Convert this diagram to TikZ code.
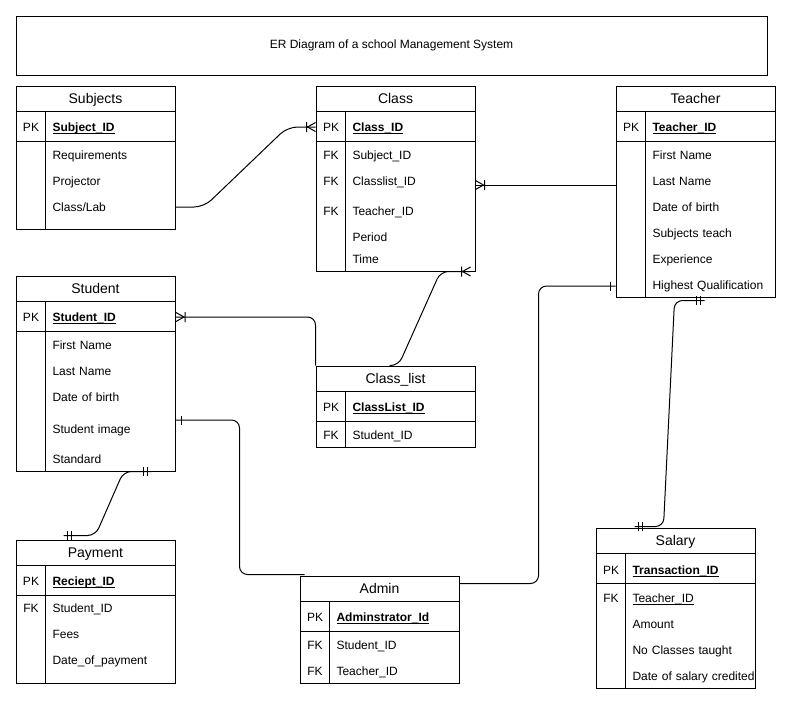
\documentclass[tikz,border=0pt]{standalone}
\usepackage{fontspec}
\setmainfont{Liberation Sans}

% entity-relation line ends: crow's foot with bar, single bar, double bar
\pgfdeclarearrow{
  name = ercrow,
  setup code = {
    \pgfarrowssettipend{0pt}
    \pgfarrowssetlineend{0pt}
    \pgfarrowssetbackend{-10pt}
    \pgfarrowssetvisualbackend{-10pt}
    \pgfarrowshullpoint{0pt}{5pt}
    \pgfarrowshullpoint{0pt}{-5pt}
    \pgfarrowshullpoint{-10pt}{5pt}
    \pgfarrowshullpoint{-10pt}{-5pt}
  },
  drawing code = {
    \pgfsetdash{}{0pt}
    \pgfpathmoveto{\pgfqpoint{-8pt}{0pt}}
    \pgfpathlineto{\pgfqpoint{0pt}{4.5pt}}
    \pgfpathmoveto{\pgfqpoint{-8pt}{0pt}}
    \pgfpathlineto{\pgfqpoint{0pt}{-4.5pt}}
    \pgfpathmoveto{\pgfqpoint{-9pt}{5pt}}
    \pgfpathlineto{\pgfqpoint{-9pt}{-5pt}}
    \pgfusepathqstroke
  }
}
\pgfdeclarearrow{
  name = erone,
  setup code = {
    \pgfarrowssettipend{0pt}
    \pgfarrowssetlineend{0pt}
    \pgfarrowssetbackend{-6pt}
    \pgfarrowssetvisualbackend{-6pt}
    \pgfarrowshullpoint{0pt}{5pt}
    \pgfarrowshullpoint{0pt}{-5pt}
    \pgfarrowshullpoint{-6pt}{5pt}
    \pgfarrowshullpoint{-6pt}{-5pt}
  },
  drawing code = {
    \pgfsetdash{}{0pt}
    \pgfpathmoveto{\pgfqpoint{-5pt}{4.5pt}}
    \pgfpathlineto{\pgfqpoint{-5pt}{-4.5pt}}
    \pgfusepathqstroke
  }
}
\pgfdeclarearrow{
  name = ertwo,
  setup code = {
    \pgfarrowssettipend{0pt}
    \pgfarrowssetlineend{0pt}
    \pgfarrowssetbackend{-9pt}
    \pgfarrowssetvisualbackend{-9pt}
    \pgfarrowshullpoint{0pt}{5pt}
    \pgfarrowshullpoint{0pt}{-5pt}
    \pgfarrowshullpoint{-9pt}{5pt}
    \pgfarrowshullpoint{-9pt}{-5pt}
  },
  drawing code = {
    \pgfsetdash{}{0pt}
    \pgfpathmoveto{\pgfqpoint{-4pt}{4.5pt}}
    \pgfpathlineto{\pgfqpoint{-4pt}{-4.5pt}}
    \pgfpathmoveto{\pgfqpoint{-8pt}{4.5pt}}
    \pgfpathlineto{\pgfqpoint{-8pt}{-4.5pt}}
    \pgfusepathqstroke
  }
}

% underlined key names
\newcommand\pkname[1]{\leavevmode\setbox0=\hbox{\bfseries #1}\rlap{\vrule width\wd0 height -1.4pt depth 2.4pt}\box0}
\newcommand\ulname[1]{\leavevmode\setbox0=\hbox{#1}\rlap{\vrule width\wd0 height -1.4pt depth 2.4pt}\box0}

% table frame: name, left, top, bottom, title
\newcommand\erframe[5]{%
  \node[frame, minimum height={(#4-#3)*1pt}] (#1) at ({#2+79.5},{(#3+#4)/2}) {};
  \draw ([yshift=-26pt]#1.north west) -- ([yshift=-26pt]#1.north east)
        ([yshift=-56pt]#1.north west) -- ([yshift=-56pt]#1.north east)
        ([shift={(30pt,-26pt)}]#1.north west) -- ([xshift=30pt]#1.south west);
  \node[hdr] (#1-h) at ([yshift=-13pt]#1.north) {#5};
}
% table row: left, y, key, name, text (kept on one line)
\newcommand\errow[5]{%
  \node[key] (#4-k) at ({#1+15},#2) {#3};
  \node[attr] (#4) at ({#1+30},#2) {\mbox{#5}};
}

\begin{document}
\begin{tikzpicture}[x=1pt, y=-1pt, line width=1pt,
  every node/.style={font=\fontsize{12}{14}\selectfont},
  frame/.style={draw, minimum width=159pt, inner sep=0pt},
  hdr/.style={font=\fontsize{14}{16}\selectfont, text height=10pt, text depth=0pt, inner sep=0pt},
  key/.style={minimum width=30pt, inner sep=0pt, text height=8.6pt, text depth=0pt},
  attr/.style={anchor=west, inner xsep=6pt, inner ysep=0pt, text width=117pt, align=left, text height=8.6pt, text depth=0pt},
  conn/.style={draw, line width=1pt, rounded corners=8pt}]

\fill[white] (0,0) rectangle (791,707);
\useasboundingbox (0,0) rectangle (791,707);

% title
\node[draw, minimum width=751pt, minimum height=59pt, inner sep=0pt] (title) at (391.5,45.5)
  {ER Diagram of a school Management System};

% Subjects
\erframe{sb}{16}{86}{229}{Subjects}
\errow{16}{127}{PK}{sb-id}{\pkname{Subject\_ID}}
\errow{16}{155}{}{sb-req}{Requirements}
\errow{16}{181}{}{sb-proj}{Projector}
\errow{16}{207}{}{sb-lab}{Class/Lab}

% Class
\erframe{cls}{316}{86}{271}{Class}
\errow{316}{127}{PK}{cls-id}{\pkname{Class\_ID}}
\errow{316}{155}{FK}{cls-sub}{Subject\_ID}
\errow{316}{181}{FK}{cls-list}{Classlist\_ID}
\errow{316}{211}{FK}{cls-tch}{Teacher\_ID}
\errow{316}{237}{}{cls-per}{Period}
\errow{316}{259}{}{cls-time}{Time}

% Teacher
\erframe{tc}{616}{86}{297}{Teacher}
\errow{616}{127}{PK}{tc-id}{\pkname{Teacher\_ID}}
\errow{616}{155}{}{tc-fn}{First Name}
\errow{616}{181}{}{tc-ln}{Last Name}
\errow{616}{207}{}{tc-dob}{Date of birth}
\errow{616}{233}{}{tc-subj}{Subjects teach}
\errow{616}{259}{}{tc-exp}{Experience}
\errow{616}{285}{}{tc-hq}{Highest Qualification}

% Student
\erframe{st}{16}{276}{471}{Student}
\errow{16}{317}{PK}{st-id}{\pkname{Student\_ID}}
\errow{16}{345}{}{st-fn}{First Name}
\errow{16}{371}{}{st-ln}{Last Name}
\errow{16}{397}{}{st-dob}{Date of birth}
\errow{16}{429}{}{st-img}{Student image}
\errow{16}{459}{}{st-std}{Standard}

% Class_list
\erframe{cl}{316}{366}{447}{Class\_list}
\errow{316}{407}{PK}{cl-id}{\pkname{ClassList\_ID}}
\errow{316}{435}{FK}{cl-st}{Student\_ID}

% Payment
\erframe{pay}{16}{540}{683}{Payment}
\errow{16}{581}{PK}{pay-id}{\pkname{Reciept\_ID}}
\errow{16}{608}{FK}{pay-st}{Student\_ID}
\errow{16}{634}{}{pay-fee}{Fees}
\errow{16}{660}{}{pay-date}{Date\_of\_payment}

% Admin
\erframe{ad}{300}{576}{683}{Admin}
\errow{300}{617}{PK}{ad-id}{\pkname{Adminstrator\_Id}}
\errow{300}{645}{FK}{ad-st}{Student\_ID}
\errow{300}{671}{FK}{ad-tc}{Teacher\_ID}

% Salary
\erframe{sal}{596}{528}{688}{Salary}
\errow{596}{570}{PK}{sal-id}{\pkname{Transaction\_ID}}
\errow{596}{598}{FK}{sal-tc}{\ulname{Teacher\_ID}}
\errow{596}{624}{}{sal-amt}{Amount}
\errow{596}{650}{}{sal-cls}{No Classes taught}
\errow{596}{676}{}{sal-date}{Date of salary credited}

% relationships
\draw[conn, -ercrow, rounded corners=10pt] (sb-lab.east) -- ([xshift=28pt]sb-lab.east)
  -- ([xshift=-28pt]cls-id-k.west) -- (cls-id-k.west);

\coordinate (t2c) at ([yshift=-4pt]tc-ln-k.west);
\draw[conn, -ercrow] (t2c) -- (t2c -| cls.east);

\draw[conn, -ercrow] ([xshift=-6pt]cl.north) -- ([xshift=3pt]cl.north)
  -- ([xshift=-35pt]cls.south east) -- ([xshift=-5pt]cls.south east);

\draw[conn, -ercrow] (cl.north west) -- (cl.north west |- st-id) -- (st-id.east);

\coordinate (a5) at ([shift={(5pt,1pt)}]ad.north west);
\coordinate (b5) at ([yshift=9pt]st-img.east);
\draw[conn, -erone] (a5) -- ++(-65,0) |- (b5);

\coordinate (a6) at ([yshift=-8pt]ad.north east);
\coordinate (b6) at ([yshift=-1pt]tc-hq-k.west);
\draw[conn, -erone] (a6) -- ++(79,0) |- (b6);

\coordinate (c7s) at ([xshift=-24pt]st.south east);
\coordinate (c7p) at ([shift={(48pt,4pt)}]pay.north west);
\draw[conn, ertwo-ertwo] (c7s) -- ([xshift=-28pt]c7s) -- ([xshift=32pt]c7p) -- (c7p);

\coordinate (c8t) at ([shift={(89pt,-3pt)}]tc.south west);
\coordinate (c8s) at ([shift={(39pt,1pt)}]sal.north west);
\draw[conn, ertwo-ertwo] (c8t) -- ([xshift=-30pt]c8t) -- ([xshift=29pt]c8s) -- (c8s);

\end{tikzpicture}
\end{document}
